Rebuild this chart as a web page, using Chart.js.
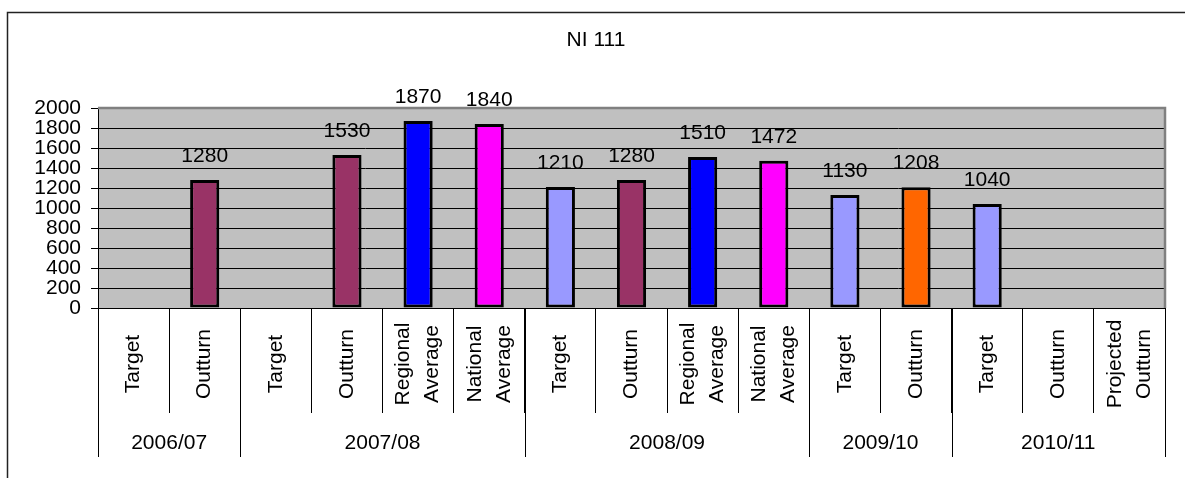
<!DOCTYPE html>
<html>
<head>
<meta charset="utf-8">
<script src="https://cdn.jsdelivr.net/npm/chart.js@4.4.1/dist/chart.umd.min.js"></script>
<style>
  html, body { margin: 0; padding: 0; background: #fff; }
  canvas { display: block; }
</style>
</head>
<body>
<canvas id="niChart" width="1185" height="478"></canvas>
<script>
// ─── data ───
const categories = [
    ['Target'], ['Outturn'],
    ['Target'], ['Outturn'], ['Regional', 'Average'], ['National', 'Average'],
    ['Target'], ['Outturn'], ['Regional', 'Average'], ['National', 'Average'],
    ['Target'], ['Outturn'],
    ['Target'], ['Outturn'], ['Projected', 'Outturn']
];
const groupLabels = ['2006/07', '2007/08', '2008/09', '2009/10', '2010/11'];
const groupSizes = [2, 4, 4, 2, 3];
const values = [null, 1280, null, 1530, 1870, 1840, 1210, 1280, 1510, 1472, 1130, 1208, 1040, null, null];
const barColors = [
    '#9999FF', '#993366',
    '#9999FF', '#993366', '#0000FF', '#FF00FF',
    '#9999FF', '#993366', '#0000FF', '#FF00FF',
    '#9999FF', '#FF6600',
    '#9999FF', '#993366', '#993366'
];
const yTicks = [0, 200, 400, 600, 800, 1000, 1200, 1400, 1600, 1800, 2000];

const FONT = '"Liberation Sans", Arial, sans-serif';

// ─── Excel-style extras: plot fill, borders, labels, frame ───
const excelLook = {
    id: 'excelLook',
    beforeDraw(chart) {
        const { ctx, chartArea: a } = chart;
        ctx.save();
        ctx.fillStyle = '#fff';
        ctx.fillRect(0, 0, chart.width, chart.height);
        ctx.fillStyle = '#C0C0C0';
        ctx.fillRect(a.left, a.top, a.right - a.left, a.bottom - a.top);
        ctx.restore();
    },
    afterDatasetsDraw(chart) {
        const { ctx, chartArea: a } = chart;
        ctx.save();
        // gray plot border top + right
        ctx.strokeStyle = '#808080';
        ctx.lineWidth = 2.5;
        ctx.beginPath();
        ctx.moveTo(a.left, a.top);
        ctx.lineTo(a.right, a.top);
        ctx.lineTo(a.right, a.bottom);
        ctx.stroke();

        // value labels
        const meta = chart.getDatasetMeta(0);
        ctx.fillStyle = '#000';
        ctx.font = '21px ' + FONT;
        ctx.textAlign = 'center';
        ctx.textBaseline = 'alphabetic';
        meta.data.forEach((bar, i) => {
            if (values[i] == null) return;
            ctx.fillText(String(values[i]), bar.x, bar.y - 18);
        });
        ctx.restore();
    },
    afterDraw(chart) {
        const { ctx, chartArea: a } = chart;
        const xs = chart.scales.x;
        ctx.save();

        // rotated category labels
        ctx.fillStyle = '#000';
        ctx.font = '21px ' + FONT;
        ctx.textAlign = 'center';
        ctx.textBaseline = 'middle';
        categories.forEach((lines, i) => {
            const x = xs.getPixelForValue(i);
            ctx.save();
            ctx.translate(x, 364);
            ctx.rotate(-Math.PI / 2);
            lines.forEach((t, j) => {
                ctx.fillText(t, 0, (j - (lines.length - 1) / 2) * 29);
            });
            ctx.restore();
        });

        // group dividers + group labels
        ctx.strokeStyle = '#000';
        ctx.lineWidth = 1;
        let start = 0;
        groupSizes.forEach((n, g) => {
            const left = xs.getPixelForValue(start - 0.5);
            const right = xs.getPixelForValue(start + n - 0.5);
            ctx.beginPath();
            ctx.moveTo(Math.round(left) + 0.5, a.bottom);
            ctx.lineTo(Math.round(left) + 0.5, 457);
            if (g === groupSizes.length - 1) {
                ctx.moveTo(Math.round(right) + 0.5, a.bottom);
                ctx.lineTo(Math.round(right) + 0.5, 457);
            }
            ctx.stroke();
            ctx.fillText(groupLabels[g], (left + right) / 2, 443);
            start += n;
        });

        // title
        ctx.fillText('NI 111', 596, 40);

        // outer frame
        ctx.strokeStyle = '#222';
        ctx.lineWidth = 1.5;
        ctx.beginPath();
        ctx.moveTo(7.5, chart.height);
        ctx.lineTo(7.5, 12.5);
        ctx.lineTo(chart.width, 12.5);
        ctx.stroke();
        ctx.restore();
    }
};

document.addEventListener('DOMContentLoaded', () => {
    const ctx = document.getElementById('niChart').getContext('2d');
    new Chart(ctx, {
        type: 'bar',
        data: {
            labels: categories,
            datasets: [{
                data: values,
                backgroundColor: barColors,
                borderColor: '#000',
                borderWidth: 3,
                borderSkipped: false,
                barPercentage: 0.41,
                categoryPercentage: 1
            }]
        },
        options: {
            responsive: false,
            animation: false,
            layout: { padding: { top: 108, right: 20, left: 0, bottom: 0 } },
            plugins: {
                legend: { display: false },
                tooltip: { enabled: false },
                title: { display: false }
            },
            scales: {
                x: {
                    offset: true,
                    ticks: { display: false },
                    grid: {
                        offset: true,
                        drawOnChartArea: false,
                        drawTicks: true,
                        tickLength: 105,
                        color: '#000',
                        lineWidth: 1
                    },
                    border: { color: '#000', width: 1 },
                    afterFit: s => { s.height = 170; }
                },
                y: {
                    min: yTicks[0],
                    max: yTicks[yTicks.length - 1],
                    afterBuildTicks: s => { s.ticks = yTicks.map(v => ({ value: v })); },
                    ticks: {
                        autoSkip: false,
                        color: '#000',
                        padding: 10,
                        font: { family: FONT, size: 21 },
                        callback: v => String(v)
                    },
                    grid: { color: '#000', lineWidth: 1, tickLength: 7 },
                    border: { color: '#000', width: 1 },
                    afterFit: s => { s.width = 98; }
                }
            }
        },
        plugins: [excelLook]
    });
});
</script>
</body>
</html>
